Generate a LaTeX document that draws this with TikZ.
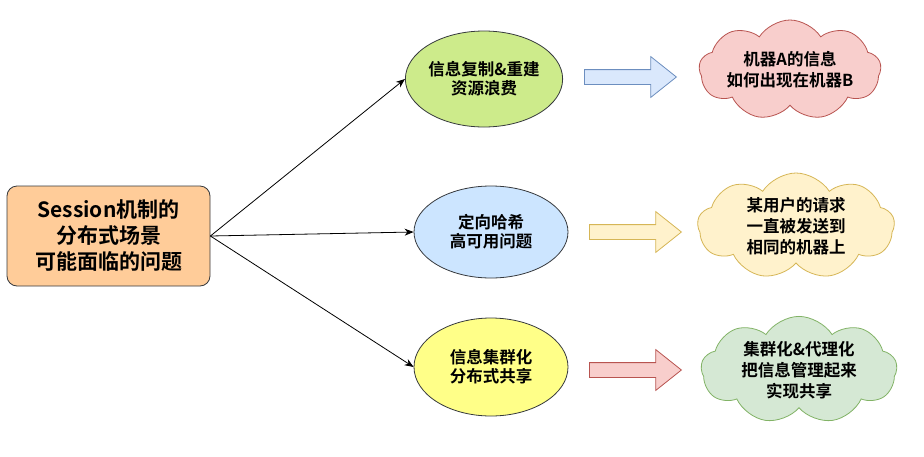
\documentclass[tikz,border=0pt]{standalone}
\usepackage{fontspec}
\newfontfamily\cjk{Noto Sans CJK SC Bold}
\usetikzlibrary{shapes.geometric,shapes.symbols,shapes.arrows,arrows.meta}
\definecolor{strokegray}{HTML}{36393D}
\definecolor{orangefill}{HTML}{FFCC99}
\definecolor{limefill}{HTML}{CDEB8B}
\definecolor{bluefill}{HTML}{CCE5FF}
\definecolor{yellowfill}{HTML}{FFFF88}
\definecolor{dblue}{HTML}{DAE8FC}
\definecolor{sblue}{HTML}{6C8EBF}
\definecolor{dyellow}{HTML}{FFF2CC}
\definecolor{syellow}{HTML}{D6B656}
\definecolor{dred}{HTML}{F8CECC}
\definecolor{sred}{HTML}{B85450}
\definecolor{dgreen}{HTML}{D5E8D4}
\definecolor{sgreen}{HTML}{82B366}
\begin{document}
\begin{tikzpicture}[x=1pt,y=-1pt,line width=0.8pt,
  mainbox/.style={draw=strokegray,fill=orangefill,rounded corners=10pt,minimum width=203pt,minimum height=100pt,align=center,inner sep=0pt,font=\cjk\fontsize{21}{26}\selectfont},
  ell/.style={ellipse,draw=strokegray,minimum width=154pt,minimum height=96pt,align=center,inner sep=0pt,font=\cjk\fontsize{16.5}{19}\selectfont},
  cloudnode/.style={cloud,cloud puffs=9,cloud puff arc=115,cloud ignores aspect,align=center,inner sep=0pt,font=\cjk\fontsize{16.5}{21}\selectfont},
  barrow/.style={single arrow,anchor=tail,minimum height=92pt,minimum width=40pt,single arrow head extend=13pt,inner sep=7pt,single arrow tip angle=77,single arrow head indent=0pt},
  conn/.style={-{Stealth[length=9pt,width=7pt]},black}
]
\useasboundingbox (0,0) rectangle (924,456);
\fill[white] (0,0) rectangle (924,456);

\node[mainbox] (box) at (108.5,236) {Session机制的\\分布式场景\\可能面临的问题};

\node[ell,fill=limefill] (e1) at (484,79) {信息复制\&重建\\资源浪费};
\node[ell,fill=bluefill,minimum height=92pt] (e2) at (491,232) {定向哈希\\高可用问题};
\node[ell,fill=yellowfill,minimum height=98pt] (e3) at (491,367) {信息集群化\\分布式共享};

\draw[conn] (box.east) -- (e1.west);
\draw[conn] (box.east) -- (e2.west);
\draw[conn] (box.east) -- (e3.west);

\node[barrow,fill=dblue,draw=sblue] (a1) at (584,77) {};
\node[barrow,fill=dyellow,draw=syellow] (a2) at (589,232) {};
\node[barrow,fill=dred,draw=sred] (a3) at (589,370) {};

\node[cloudnode,fill=dred,draw=sred,minimum width=182pt,minimum height=100pt] (c1) at (790,70) {机器A的信息\\如何出现在机器B};
\node[cloudnode,fill=dyellow,draw=syellow,minimum width=197pt,minimum height=106pt] (c2) at (796,226) {某用户的请求\\一直被发送到\\相同的机器上};
\node[cloudnode,fill=dgreen,draw=sgreen,minimum width=196pt,minimum height=104pt] (c3) at (799,370) {集群化\&代理化\\把信息管理起来\\实现共享};
\end{tikzpicture}
\end{document}
